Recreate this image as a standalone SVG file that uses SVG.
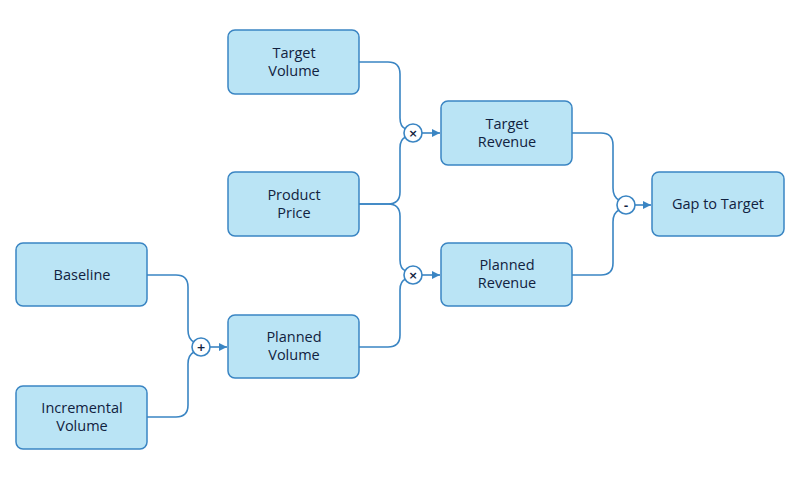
<svg xmlns="http://www.w3.org/2000/svg" width="800" height="480" viewBox="0 0 800 480">
<style>
.n rect{fill:#bae4f5;stroke:#3a85c3;stroke-width:1.5}
.n text{font-family:"Open Sans","Liberation Sans",sans-serif;font-size:14.5px;fill:#112240;text-anchor:middle}
.c path{fill:none;stroke:#3a85c3;stroke-width:1.6}
.o circle{fill:#fff;stroke:#3a85c3;stroke-width:1.6}
.o text{font-family:"DejaVu Sans",sans-serif;font-size:11px;font-weight:bold;fill:#112240;text-anchor:middle}
</style>
<defs><marker id="a" viewBox="0 0 10 10" refX="10" refY="5" markerWidth="8" markerHeight="8" markerUnits="userSpaceOnUse" orient="auto"><path d="M0,0L10,5L0,10z" fill="#3a85c3"/></marker></defs>
<rect width="800" height="480" fill="#fff"/>
<g class="c">
<path d="M359,62H388Q400,62 400,74V118Q400,127 406,129"/>
<path d="M359,204H388Q400,204 400,192V148Q400,139 406,137"/>
<path d="M359,204H388Q400,204 400,216V260Q400,269 406,271"/>
<path d="M359,347H388Q400,347 400,335V290Q400,281 406,279"/>
<path d="M147,275H176Q188,275 188,287V330Q188,339 194,342"/>
<path d="M147,417H176Q188,417 188,405V364Q188,355 194,352"/>
<path d="M572,133H601Q613,133 613,145V188Q613,197 619,200"/>
<path d="M572,275H601Q613,275 613,263V222Q613,213 619,210"/>
<path d="M422,133H440" marker-end="url(#a)"/>
<path d="M422,275H440" marker-end="url(#a)"/>
<path d="M210,347H227" marker-end="url(#a)"/>
<path d="M635,205H651" marker-end="url(#a)"/>
</g>
<g class="o">
<g id="op1"><circle cx="413" cy="133" r="9"/><text x="413" y="137">×</text></g>
<g id="op2"><circle cx="413" cy="275" r="9"/><text x="413" y="279">×</text></g>
<g id="op3"><circle cx="201" cy="347" r="9"/><text x="201" y="351">+</text></g>
<g id="op4"><circle cx="626" cy="205" r="9"/><text x="626" y="209">-</text></g>
</g>
<g class="n" id="target-volume"><rect x="228" y="30" width="131" height="64" rx="7"/><text x="294" y="58">Target</text><text x="294" y="76">Volume</text></g>
<g class="n" id="product-price"><rect x="228" y="172" width="131" height="64" rx="7"/><text x="294" y="200">Product</text><text x="294" y="218">Price</text></g>
<g class="n" id="baseline"><rect x="16" y="243" width="131" height="63" rx="7"/><text x="82" y="280">Baseline</text></g>
<g class="n" id="incremental-volume"><rect x="16" y="386" width="131" height="63" rx="7"/><text x="82" y="413">Incremental</text><text x="82" y="431">Volume</text></g>
<g class="n" id="planned-volume"><rect x="228" y="315" width="131" height="63" rx="7"/><text x="294" y="342">Planned</text><text x="294" y="360">Volume</text></g>
<g class="n" id="target-revenue"><rect x="441" y="101" width="131" height="64" rx="7"/><text x="507" y="129">Target</text><text x="507" y="147">Revenue</text></g>
<g class="n" id="planned-revenue"><rect x="441" y="243" width="131" height="63" rx="7"/><text x="507" y="270">Planned</text><text x="507" y="288">Revenue</text></g>
<g class="n" id="gap-to-target"><rect x="652" y="172" width="132" height="64" rx="7"/><text x="718" y="209">Gap to Target</text></g>
</svg>
